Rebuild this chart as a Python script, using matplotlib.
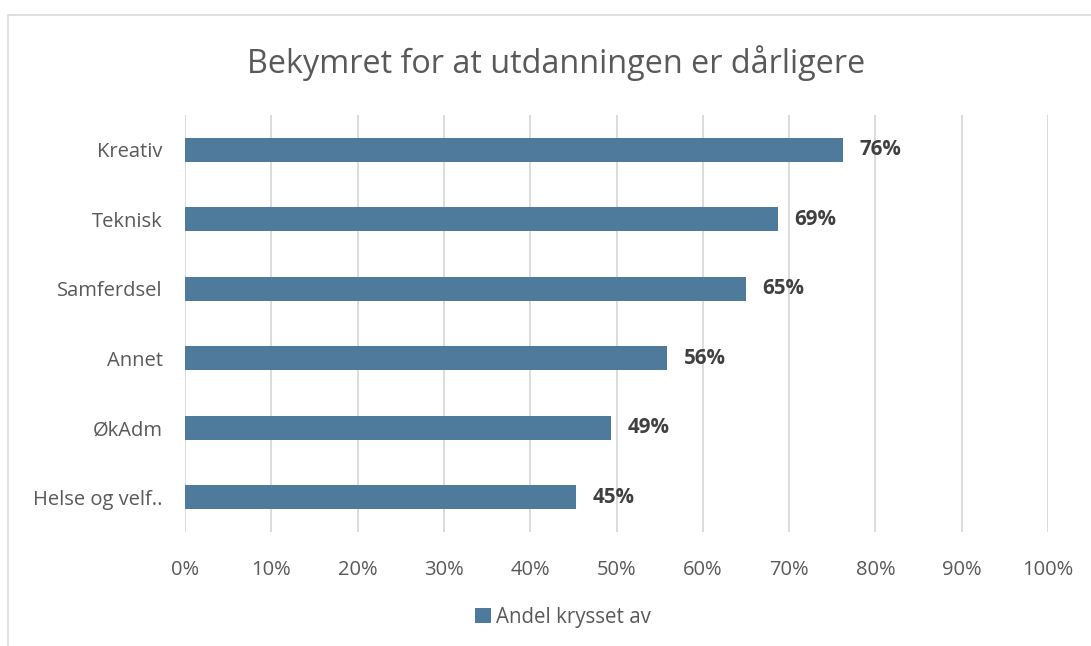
import matplotlib.pyplot as plt
from matplotlib.patches import Rectangle

categories = ["Kreativ", "Teknisk", "Samferdsel", "Annet", "ØkAdm", "Helse og velf.."]
values = [76.2, 68.7, 65.0, 55.9, 49.4, 45.3]
labels = ["76%", "69%", "65%", "56%", "49%", "45%"]
ticks = list(range(0, 101, 10))

bar_color = "#4E7B9B"
text_color = "#595959"

plt.rcParams["font.family"] = ["Open Sans", "DejaVu Sans"]

fig = plt.figure(figsize=(10.91, 6.46), dpi=100)
ax = fig.add_axes([0.1696, 0.1765, 0.791, 0.6455])

ypos = list(range(len(categories)))
ax.barh(ypos, values, height=0.35, color=bar_color, label="Andel krysset av", zorder=3)
for y, v, lab in zip(ypos, values, labels):
    ax.text(v + 1.9, y, lab, va="center", ha="left", fontsize=14.8,
            fontweight="bold", color="#404040", zorder=4)

ax.set_xlim(0, 100)
ax.set_ylim(len(categories) - 0.5, -0.5)
ax.set_yticks(ypos)
ax.set_yticklabels(categories)
ax.set_xticks(ticks)
ax.set_xticklabels([f"{t}%" for t in ticks])
ax.tick_params(axis="both", length=0, labelsize=14.5, labelcolor=text_color)
ax.tick_params(axis="x", pad=20)
ax.tick_params(axis="y", pad=16)
ax.grid(axis="x", color="#D9D9D9", linewidth=1.3, zorder=0)
for s in ax.spines.values():
    s.set_visible(False)

fig.text(0.51, 0.903, "Bekymret for at utdanningen er dårligere", ha="center",
         va="center", fontsize=23.3, color=text_color)

fig.legend(loc="center", bbox_to_anchor=(0.516, 0.044), frameon=False,
           fontsize=14.8, labelcolor=text_color, handlelength=0.75,
           handleheight=0.75, handletextpad=0.25)

fig.patches.append(Rectangle((8 / 1091, -0.1), 1.2, 1 - 15 / 646 + 0.1,
                             transform=fig.transFigure, fill=False,
                             edgecolor="#D9D9D9", linewidth=1.2))

fig.savefig("out.png", dpi=100)
